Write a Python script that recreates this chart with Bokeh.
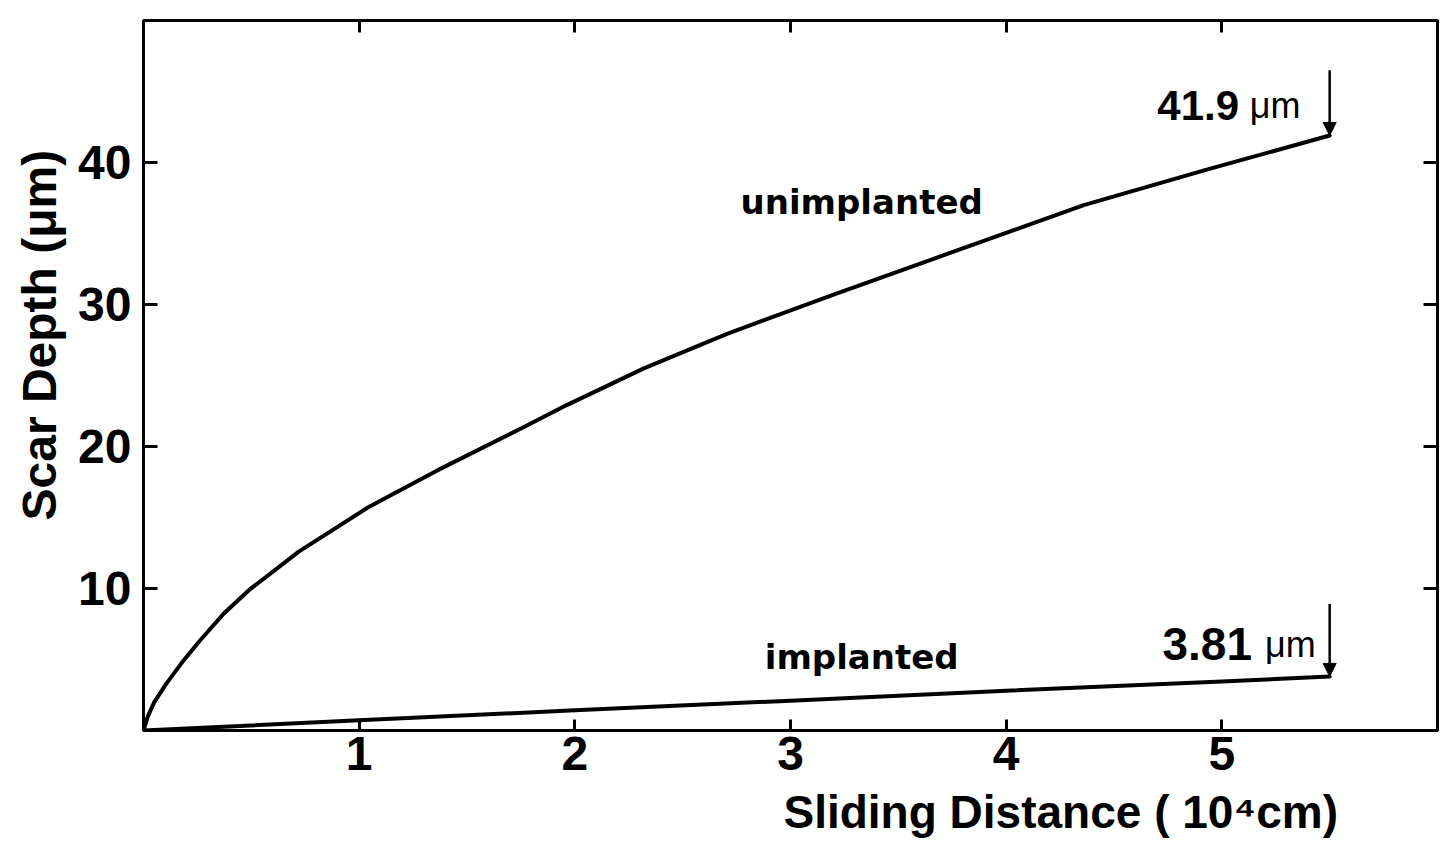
from bokeh.plotting import figure
from bokeh.models import (Range1d, LinearAxis, FixedTicker, Label, Arrow,
                          NormalHead, CustomJSTickFormatter, Title)
from bokeh.embed import file_html
from bokeh.resources import INLINE

# Scar depth (um) against sliding distance (10^4 cm)
dist_unimplanted = [0, 0.02, 0.05, 0.106, 0.184, 0.26, 0.37, 0.49, 0.72, 1.04,
                    1.36, 1.78, 1.96, 2.32, 2.7, 3.2, 3.66, 4.12, 4.36, 4.93, 5.5]
depth_unimplanted = [0, 1.0, 2.0, 3.3, 4.9, 6.3, 8.2, 9.9, 12.6, 15.7,
                     18.3, 21.5, 22.9, 25.5, 27.9, 30.7, 33.2, 35.7, 37.0, 39.5, 41.9]

dist_implanted = [0, 1, 2, 3, 4, 5, 5.5]
depth_implanted = [0, 0.72, 1.42, 2.1, 2.8, 3.45, 3.81]

x_ticks = [1, 2, 3, 4, 5]
y_ticks = [10, 20, 30, 40]

final_distance = 5.5
final_unimplanted = 41.9
final_implanted = 3.81

FONT = "Liberation Sans"
LABEL_FONT = "DejaVu Sans"

p = figure(width=1445, height=857,
           x_range=Range1d(0, 6), y_range=Range1d(0, 50),
           output_backend="svg", toolbar_location=None,
           min_border_left=142, min_border_right=8,
           min_border_top=20, min_border_bottom=127,
           background_fill_color="white", border_fill_color="white")

p.xgrid.grid_line_color = None
p.ygrid.grid_line_color = None
p.outline_line_color = "black"
p.outline_line_width = 3


def style_axis(ax, ticks, tick_len, show_labels):
    ax.ticker = FixedTicker(ticks=ticks)
    ax.axis_line_color = "black"
    ax.axis_line_width = 3
    ax.major_tick_in = tick_len
    ax.major_tick_out = 0
    ax.major_tick_line_width = 3
    ax.major_tick_line_color = "black"
    ax.minor_tick_line_color = None
    if show_labels:
        ax.major_label_text_font = FONT
        ax.major_label_text_font_size = "48px"
        ax.major_label_text_font_style = "bold"
        ax.major_label_text_color = "black"
    else:
        ax.formatter = CustomJSTickFormatter(code="return ''")
        ax.major_label_text_font_size = "0px"
        ax.major_label_standoff = 0


style_axis(p.xaxis[0], x_ticks, 11, True)
p.xaxis[0].major_label_standoff = 6
style_axis(p.yaxis[0], y_ticks, 14, True)
p.yaxis[0].major_label_standoff = 12

top_axis = LinearAxis()
style_axis(top_axis, x_ticks, 12, False)
p.add_layout(top_axis, "above")

right_axis = LinearAxis()
style_axis(right_axis, y_ticks, 14, False)
p.add_layout(right_axis, "right")

# axis titles, placed in the side panels
p.add_layout(Title(text="Scar Depth (μm)", align="left", offset=210,
                   standoff=20, text_font=FONT, text_font_size="48px",
                   text_font_style="bold", text_color="black"), "left")
p.add_layout(Title(text="Sliding Distance ( 10⁴cm)", align="left", offset=640,
                   standoff=22, text_font=FONT, text_font_size="46px",
                   text_font_style="bold", text_color="black"), "below")

# the two wear curves
p.line(dist_unimplanted, depth_unimplanted, line_width=4, line_color="black",
       line_join="round", line_cap="round")
p.line(dist_implanted, depth_implanted, line_width=4, line_color="black",
       line_join="round", line_cap="round")

# arrows pointing at the final depths
p.add_layout(Arrow(end=NormalHead(size=13, fill_color="black", line_color="black"),
                   x_start=final_distance, y_start=46.5,
                   x_end=final_distance, y_end=final_unimplanted,
                   line_width=2.5, line_color="black"))
p.add_layout(Arrow(end=NormalHead(size=13, fill_color="black", line_color="black"),
                   x_start=final_distance, y_start=8.9,
                   x_end=final_distance, y_end=final_implanted,
                   line_width=2.5, line_color="black"))


def add_text(x, y, text, size, bold=True, align="left", font=FONT):
    p.add_layout(Label(x=x, y=y, text=text, text_font=font,
                       text_font_size=size,
                       text_font_style="bold" if bold else "normal",
                       text_align=align, text_baseline="alphabetic",
                       text_color="black"))


# end-value annotations
add_text(5.08, 44.0, f"{final_unimplanted}", "42px", align="right")
add_text(5.13, 44.0, "μm", "36px", bold=False)
add_text(5.14, 6.06, f"{final_implanted}", "46px", align="right")
add_text(5.20, 6.06, "μm", "36px", bold=False)

# curve names
add_text(3.33, 37.25, "unimplanted", "34px", align="center", font=LABEL_FONT)
add_text(3.33, 5.2, "implanted", "34px", align="center", font=LABEL_FONT)

open("out.html", "w").write(file_html(p, INLINE))
